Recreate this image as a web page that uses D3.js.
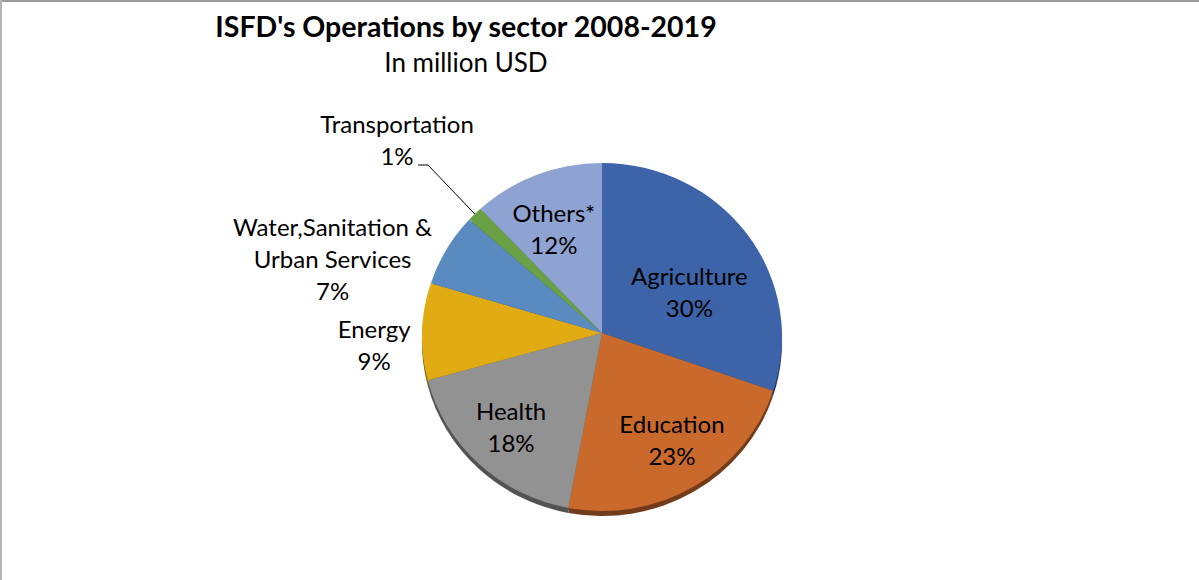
<!DOCTYPE html>
<html>
<head>
<meta charset="utf-8">
<title>ISFD's Operations by sector 2008-2019</title>
<script src="https://cdnjs.cloudflare.com/ajax/libs/d3/7.8.5/d3.min.js"></script>
<style>
  body { margin: 0; background: #fff; }
  text { font-family: Lato, "Open Sans", sans-serif; fill: #000; }
</style>
</head>
<body>
<svg id="chart" width="1199" height="580"></svg>
<script>
// data (percent share of operations)
var sectors = ["Agriculture", "Education", "Health", "Energy", "Water,Sanitation & Urban Services", "Transportation", "Others*"];
var labelLines = [["Agriculture"], ["Education"], ["Health"], ["Energy"], ["Water,Sanitation &", "Urban Services"], ["Transportation"], ["Others*"]];
var shares = [30, 23, 18, 9, 6.8, 1.4, 11.8];
var colors = ["#3d64a8", "#c9692c", "#929292", "#e1ab13", "#5a8bc0", "#6aa046", "#8fa3d3"];

// label placement: inside / outside, plus small nudges like excel's best fit
var labelRadius = [0.6, 0.6, 0.6, 1.25, 1.25, 1.25, 0.6];
var labelNudge = [[0, 18], [15, 15], [-17, 16], [-3, 17], [-75, 34], [0, 0], [-9, -9]];

var svg = d3.select("#chart");
var W = 1199, H = 580;
var cx = 602, cy = 337, rx = 180, ry = 174;
var apex = [602, 333];
var lineH = 32;

// frame
svg.append("line").attr("x1", 0).attr("x2", W).attr("y1", 1).attr("y2", 1)
  .style("stroke", "#9a9a9a").style("stroke-width", 2);
svg.append("line").attr("x1", 1).attr("x2", 1).attr("y1", 0).attr("y2", H)
  .style("stroke", "#b4b4b4").style("stroke-width", 2);

svg.append("text").attr("x", 466).attr("y", 37).attr("text-anchor", "middle")
  .style("font-size", "28.5px").style("font-weight", "bold")
  .text("ISFD's Operations by sector 2008-2019");
svg.append("text").attr("x", 466).attr("y", 72).attr("text-anchor", "middle")
  .style("font-size", "26px").text("In million USD");

var pie = d3.pie().sort(null).value(function (d) { return d; });
var arcs = pie(shares);
var total = d3.sum(shares);

function pt(a, k, dy) {
  return [cx + rx * k * Math.sin(a), cy - ry * k * Math.cos(a) + (dy || 0)];
}
function slicePath(d, dy) {
  var p0 = pt(d.startAngle, 1, dy), p1 = pt(d.endAngle, 1, dy);
  var large = (d.endAngle - d.startAngle) > Math.PI ? 1 : 0;
  return "M" + apex[0] + "," + (apex[1] + dy) + "L" + p0[0] + "," + p0[1] +
    "A" + rx + "," + ry + " 0 " + large + " 1 " + p1[0] + "," + p1[1] + "Z";
}

// thin 3d edge under the pie
svg.append("g").selectAll("path").data(arcs).enter().append("path")
  .attr("d", function (d) { return slicePath(d, 5); })
  .style("fill", function (d, i) { return d3.color(colors[i]).darker(1.6); });

svg.append("g").selectAll("path").data(arcs).enter().append("path")
  .attr("d", function (d) { return slicePath(d, 0); })
  .style("fill", function (d, i) { return colors[i]; });

// labels
var labels = svg.append("g").selectAll("text").data(arcs).enter().append("text")
  .attr("text-anchor", "middle")
  .style("font-size", "24px")
  .each(function (d, i) {
    var mid = (d.startAngle + d.endAngle) / 2;
    var p = pt(mid, labelRadius[i]);
    var x = p[0] + labelNudge[i][0], y = p[1] + labelNudge[i][1];
    if (i == 5) { x = 397; y = 142; }
    var lines = labelLines[i].concat([Math.round(d.data / total * 100) + "%"]);
    var top = y - 9 - (lines.length - 2) * lineH / 2;
    var t = d3.select(this);
    lines.forEach(function (s, j) {
      t.append("tspan").attr("x", x).attr("y", top + j * lineH).text(s);
    });
  });

// leader line for the small slice
var tr = arcs[5];
var edge = pt((tr.startAngle + tr.endAngle) / 2, 1);
svg.append("polyline")
  .attr("points", [[418, 165], [428, 165], edge].map(function (p) { return p.join(","); }).join(" "))
  .style("fill", "none").style("stroke", "#000").style("stroke-width", 1);
</script>
</body>
</html>
